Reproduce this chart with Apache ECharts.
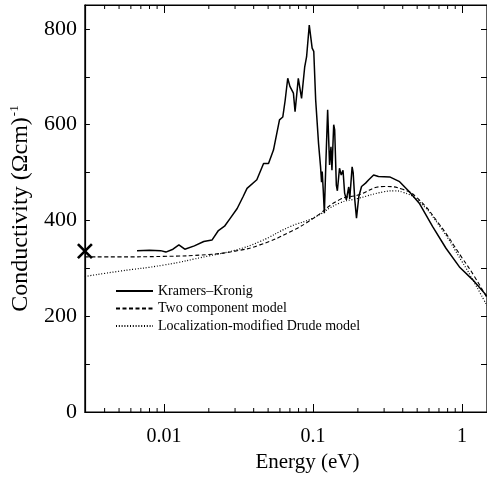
<!DOCTYPE html>
<html>
<head>
<meta charset="utf-8">
<script src="https://cdn.jsdelivr.net/npm/echarts@6/dist/echarts.min.js"></script>
<style>html,body{margin:0;padding:0;background:#fff;}#c{width:487px;height:478px;}</style>
</head>
<body>
<div id="c"></div>
<script>
// ---- data ----
const kkEnergy = [0.0066,0.0080,0.0095,0.0103,0.0115,0.0126,0.0138,0.0160,0.0185,0.0210,0.0232,0.0255,0.0279,0.0310,0.0340,0.0361,0.0420,0.0466,0.0503,0.0543,0.0596,0.0627,0.0650,0.0677,0.0700,0.0739,0.0758,0.0797,0.0810,0.0838,0.0880,0.0906,0.0944,0.0964,0.0987,0.1012,0.1042,0.1090,0.1124,0.1141,0.1153,0.1171,0.1192,0.1220,0.1254,0.1292,0.1320,0.1340,0.1377,0.1398,0.1434,0.1457,0.1506,0.1547,0.1590,0.1630,0.1674,0.1736,0.1764,0.1830,0.1860,0.1907,0.1958,0.2030,0.2117,0.2253,0.2366,0.2551,0.2750,0.327,0.381,0.443,0.516,0.635,0.78,0.96,1.18,1.47];
const kkCond   = [337,338,337,334,340,349,340,347,356,359,379,388,405,425,450,467,485,519,519,547,610,616,650,697,680,666,627,697,693,655,721,742,808,805,760,753,652,560,512,480,502,464,415,520,631,516,554,505,600,589,474,462,509,495,505,457,443,470,445,512,500,443,405,450,471,478,485,495,492,491,481,460,436,387,342,303,276,242];

const twoEnergy = [0.00295,0.005,0.01,0.02,0.03,0.044,0.07,0.1,0.15,0.2,0.3,0.4,0.5,0.7,1.0,1.2,1.47];
const twoCond   = [324,324,325,329,336,349,376,404,443,453,471,465,447,393,322,285,238];

const drudeEnergy = [0.00295,0.005,0.01,0.02,0.03,0.044,0.07,0.1,0.15,0.2,0.3,0.35,0.4,0.5,0.7,1.0,1.2,1.47];
const drudeCond   = [283,294,307,326,338,356,387,405,436,446,460,462,459,443,390,314,272,222];

const markerPoint = [0.00295, 336];

const xTickLabels = {'-2':'0.01','-1':'0.1','0':'1'};
const yTickLabels = [0,200,400,600,800];
const minorTickValues = [0.004,0.005,0.006,0.007,0.008,0.009,0.02,0.03,0.04,0.05,0.06,0.07,0.08,0.09,0.2,0.3,0.4,0.5,0.6,0.7,0.8,0.9];

const seriesNames = ['Kramers\u2013Kronig','Two component model','Localization-modified Drude model'];

// ---- chart ----
const X_MIN = 0.00295, X_MAX = 1.47, Y_MIN = 0, Y_MAX = 850;
const FONT = 'Liberation Serif';
const zip = (a,b) => a.map((v,i)=>[v,b[i]]);

const chart = echarts.init(document.getElementById('c'), null, {renderer:'canvas'});

const xLabelFmt = v => { const l = Math.round(Math.log10(v)); return Math.abs(Math.log10(v)-l) < 1e-6 && xTickLabels[String(l)] !== undefined ? xTickLabels[String(l)] : ''; };
const yLabelFmt = v => yTickLabels.indexOf(v) >= 0 ? String(v) : '';

chart.setOption({
  animation: false,
  backgroundColor: '#fff',
  textStyle: {fontFamily: FONT, color: '#000'},
  grid: {left: 82, right: -1, top: 5, bottom: 66, show: true, borderColor: '#000', borderWidth: 1.2, backgroundColor: 'transparent'},
  legend: {
    data: seriesNames,
    orient: 'vertical', left: 115, top: 284, padding: 0,
    itemWidth: 37, itemHeight: 14, itemGap: 3.5,
    itemStyle: {opacity: 0},
    textStyle: {fontFamily: FONT, fontSize: 14, color: '#000'}
  },
  xAxis: [{
    type: 'log', logBase: 10, min: X_MIN, max: X_MAX,
    name: 'Energy (eV)', nameLocation: 'middle', nameGap: 31,
    nameTextStyle: {fontFamily: FONT, fontSize: 21, color: '#000', padding: [0,0,0,43]},
    axisLine: {show: true, onZero: false, lineStyle: {color: '#000', width: 1.2}},
    axisTick: {show: true, inside: true, length: 8, lineStyle: {color: '#000', width: 1}},
    axisLabel: {formatter: xLabelFmt, fontFamily: FONT, fontSize: 20, color: '#000', margin: 15, showMinLabel: false, showMaxLabel: false},
    splitLine: {show: false}
  },{
    type: 'log', logBase: 10, min: X_MIN, max: X_MAX, position: 'top',
    axisLine: {show: true, onZero: false, lineStyle: {color: '#000', width: 1.2}},
    axisTick: {show: true, inside: true, length: 8, lineStyle: {color: '#000', width: 1}},
    axisLabel: {show: false}, splitLine: {show: false}
  }],
  yAxis: [{
    type: 'value', min: Y_MIN, max: Y_MAX, interval: 100,
    name: '{a|Conductivity (\u03A9cm)}{s|-1}', nameLocation: 'middle', nameGap: 44,
    nameTextStyle: {
      rich: {
        a: {fontFamily: FONT, fontSize: 24, color: '#000', lineHeight: 26},
        s: {fontFamily: FONT, fontSize: 13, color: '#000', lineHeight: 26, verticalAlign: 'top', padding: [0,0,0,1]}
      }
    },
    axisLine: {show: true, onZero: false, lineStyle: {color: '#000', width: 1.2}},
    axisTick: {show: true, inside: true, length: 5, lineStyle: {color: '#000', width: 1}},
    axisLabel: {formatter: yLabelFmt, fontFamily: FONT, fontSize: 22, color: '#000', margin: 8, showMaxLabel: false},
    splitLine: {show: false}
  },{
    type: 'value', min: Y_MIN, max: Y_MAX, interval: 100, position: 'right',
    axisLine: {show: true, onZero: false, lineStyle: {color: '#000', width: 1.2}},
    axisTick: {show: true, inside: true, length: 6, lineStyle: {color: '#000', width: 1}},
    axisLabel: {show: false}, splitLine: {show: false}
  }],
  series: [
    {
      name: seriesNames[0], type: 'line', data: zip(kkEnergy, kkCond),
      showSymbol: false, symbol: 'none', smooth: false,
      lineStyle: {color: '#000', width: 1.5, type: 'solid'}, itemStyle: {color: '#000'}
    },
    {
      name: seriesNames[1], type: 'line', data: zip(twoEnergy, twoCond),
      showSymbol: false, symbol: 'none', smooth: true,
      lineStyle: {color: '#000', width: 1.1, type: [4, 2.5]}, itemStyle: {color: '#000'}
    },
    {
      name: seriesNames[2], type: 'line', data: zip(drudeEnergy, drudeCond),
      showSymbol: false, symbol: 'none', smooth: true,
      lineStyle: {color: '#000', width: 1.2, type: [1, 1.8]}, itemStyle: {color: '#000'}
    },
    {
      name: 'marker', type: 'scatter', data: [markerPoint], clip: false,
      symbol: 'path://M0,0L10,10M10,0L0,10', symbolSize: 14,
      itemStyle: {color: 'transparent', borderColor: '#000', borderWidth: 2.6, opacity: 1}, z: 5
    },
    {
      name: 'minorTicks', type: 'custom', clip: false, silent: true,
      data: minorTickValues.map(v => [v, Y_MIN]),
      renderItem: function (params, api) {
        const v = api.value(0);
        const b = api.coord([v, Y_MIN]);
        const t = api.coord([v, Y_MAX]);
        return {type: 'group', children: [
          {type: 'line', shape: {x1: b[0], y1: b[1], x2: b[0], y2: b[1] - 4}, style: {stroke: '#000', lineWidth: 1}},
          {type: 'line', shape: {x1: t[0], y1: t[1], x2: t[0], y2: t[1] + 4}, style: {stroke: '#000', lineWidth: 1}}
        ]};
      }
    }
  ]
});
</script>
</body>
</html>
